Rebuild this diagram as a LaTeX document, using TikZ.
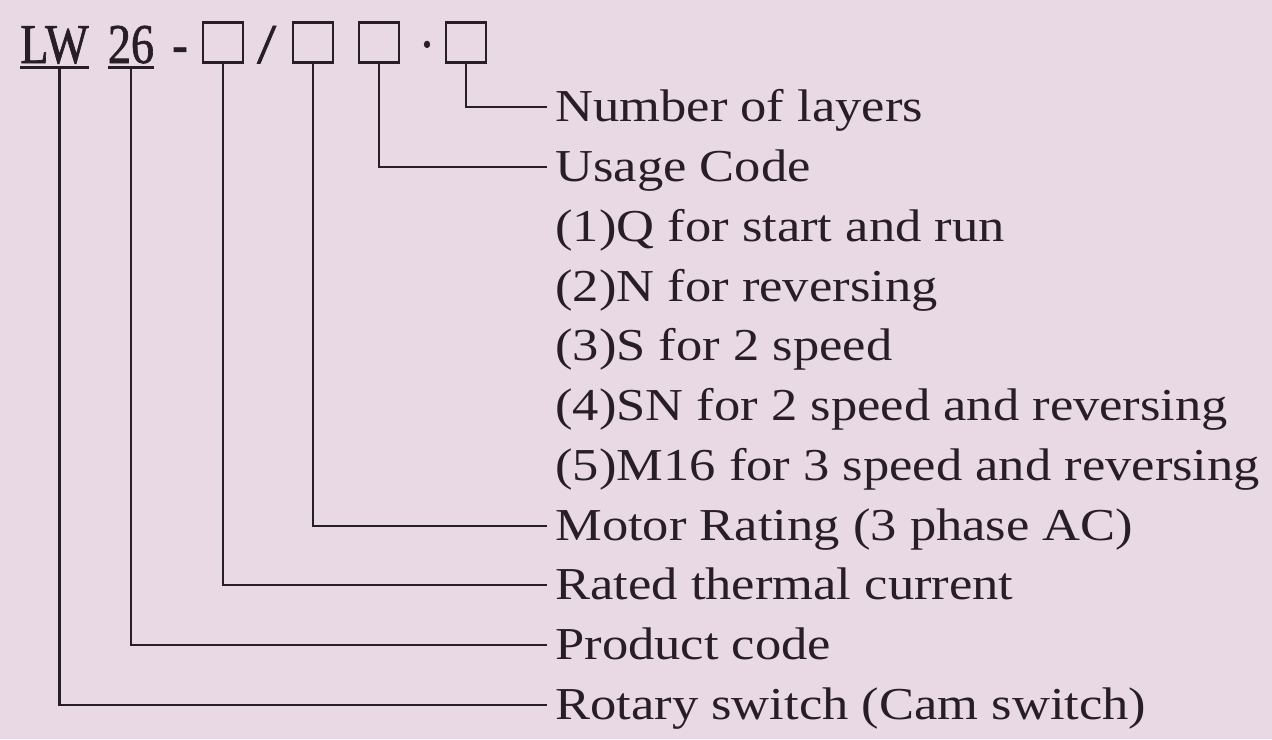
\documentclass[tikz,border=0pt]{standalone}
\usepackage{fontspec}
\setmainfont{Liberation Serif}[FakeStretch=1.15]
\newfontfamily\codefont{Liberation Serif}[FakeStretch=0.82, FakeBold=1.2, BoldFont=Liberation Serif Bold, BoldItalicFont=Liberation Serif Bold Italic]
\usepackage{xcolor}
\definecolor{bgpink}{RGB}{232,217,228}
\definecolor{ink}{RGB}{40,30,38}

\begin{document}
\begin{tikzpicture}[
    code/.style={inner sep=0pt, anchor=base, text depth=0pt, text=ink, font=\fontsize{32}{36}\selectfont\codefont},
    slot/.style={draw=ink, line width=1.5pt, minimum width=0.8cm, minimum height=0.8cm, inner sep=0pt},
    lead/.style={draw=ink, line width=1.4pt},
    bar/.style={draw=ink, line width=1.7pt},
    lbl/.style={anchor=west, inner xsep=0.16cm, inner ysep=0pt, text height=17pt, text depth=0pt, text=ink, font=\fontsize{26}{30}\selectfont}
  ]
  \fill[bgpink] (0,0) rectangle (25.44,-14.78);
  \useasboundingbox (0,0) rectangle (25.44,-14.78);
  % type code
  \node[code] (lw) at (1.09,-1.26) {LW};
  \node[code] (num) at (2.62,-1.26) {26};
  \node[code] (dash) at (3.60,-1.26) {-};
  \node[slot] (cur) at (4.46,-0.85) {};
  \node[code] (slash) at (5.36,-1.26) {\textbf{\textit{/}}};
  \node[slot] (kw) at (6.26,-0.85) {};
  \node[slot] (use) at (7.58,-0.85) {};
  \node[code] (dot) at (8.54,-1.26) {\textperiodcentered};
  \node[slot] (lay) at (9.32,-0.85) {};
  \draw[bar] ([yshift=-0.08cm]lw.south west) -- ([yshift=-0.08cm]lw.south east);
  \draw[bar] ([yshift=-0.08cm]num.south west) -- ([yshift=-0.08cm]num.south east);
  % labels
  \node[lbl] (layT) at (10.94,-2.14) {Number of layers};
  \node[lbl] (useT) at (10.94,-3.34) {Usage Code};
  \node[lbl] (u1) at (10.94,-4.54) {(1)Q for start and run};
  \node[lbl] (u2) at (10.94,-5.74) {(2)N for reversing};
  \node[lbl] (u3) at (10.94,-6.92) {(3)S for 2 speed};
  \node[lbl] (u4) at (10.94,-8.12) {(4)SN for 2 speed and reversing};
  \node[lbl] (u5) at (10.94,-9.32) {(5)M16 for 3 speed and reversing};
  \node[lbl] (kwT) at (10.94,-10.52) {Motor Rating (3 phase AC)};
  \node[lbl] (curT) at (10.94,-11.70) {Rated thermal current};
  \node[lbl] (numT) at (10.94,-12.90) {Product code};
  \node[lbl] (lwT) at (10.94,-14.10) {Rotary switch (Cam switch)};
  % leads
  \draw[lead] (lay.south) |- (layT.west);
  \draw[lead] (use.south) |- (useT.west);
  \draw[lead] (kw.south) |- (kwT.west);
  \draw[lead] (cur.south) |- (curT.west);
  \draw[lead] ([yshift=-0.08cm]num.south) |- (numT.west);
  \draw[lead] ([xshift=0.1cm,yshift=-0.08cm]lw.south) |- (lwT.west);
\end{tikzpicture}
\end{document}
